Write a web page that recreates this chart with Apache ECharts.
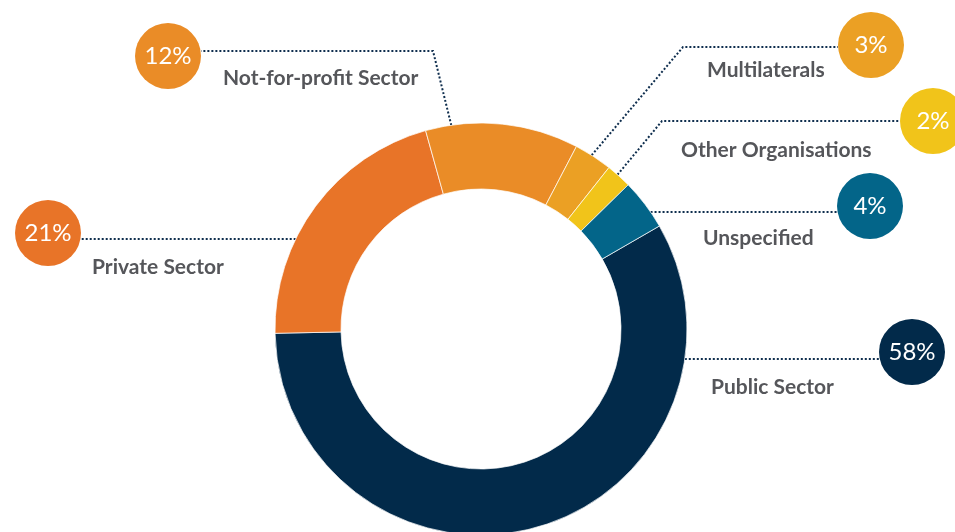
<!DOCTYPE html>
<html><head><meta charset="utf-8">
<script src="https://cdn.jsdelivr.net/npm/echarts@6.0.0/dist/echarts.min.js"></script>
<style>html,body{margin:0;padding:0;background:#fff}#chart{width:955px;height:532px}</style>
</head><body><div id="chart"></div>
<script>
// ---- data ----
const categories = ['Public Sector', 'Private Sector', 'Not-for-profit Sector', 'Multilaterals', 'Other Organisations', 'Unspecified'];
const shares = [58, 21, 12, 3, 2, 4];
const colors = ['#022a4a', '#e87428', '#ea8c27', '#eba024', '#f1c41a', '#036589'];

// ---- annotation layout ----
const CX = 481, CY = 329, R_OUT = 206, R_IN = 140, BADGE_R = 33;
const badgePos = [[912, 352], [48, 233], [168, 56], [871, 45], [933, 121], [870, 206]];
const namePos = [[711, 387], [92, 267], [223, 78], [707, 70], [681, 150], [703, 238]];
const lineY = [359, 239, 51, 47, 121, 212];
const elbows = [null, null, [433, 51], [683, 47], [662, 121], null];
const anchorAngle = [null, null, 98.3, 57.5, 48.5, null];

function linePoints(i) {
  const b = badgePos[i];
  const right = b[0] > CX;
  const endX = right ? b[0] - BADGE_R : b[0] + BADGE_R;
  const y = lineY[i];
  if (!elbows[i]) {
    const dy = y - CY;
    const dx = Math.sqrt(R_OUT * R_OUT - dy * dy);
    const sx = right ? CX + dx : CX - dx;
    return [[sx, y], [(sx + endX) / 2, y], [endX, y]];
  }
  const a = anchorAngle[i] * Math.PI / 180;
  const s = [CX + R_OUT * Math.cos(a), CY - R_OUT * Math.sin(a)];
  return [s, elbows[i], [endX, y]];
}

const chart = echarts.init(document.getElementById('chart'));
chart.setOption({
  animation: false,
  series: [
    {
      type: 'pie',
      center: [CX, CY],
      radius: [R_IN, R_OUT],
      startAngle: 30,
      clockwise: true,
      avoidLabelOverlap: false,
      silent: true,
      z: 2,
      itemStyle: { borderColor: '#ffffff', borderWidth: 0.7 },
      label: {
        show: true, position: 'outside', formatter: '{c}%',
        color: '#ffffff', fontFamily: 'Lato', fontSize: 24, fontWeight: 'normal',
        width: 66, height: 66, lineHeight: 66, align: 'center', verticalAlign: 'middle',
        borderRadius: 33
      },
      labelLine: { show: true, smooth: false, lineStyle: { color: '#0f2e4e', width: 2, type: 'dotted' } },
      labelLayout: function (p) {
        const i = p.dataIndex;
        return { x: badgePos[i][0], y: badgePos[i][1], align: 'center', verticalAlign: 'middle', labelLinePoints: linePoints(i) };
      },
      data: categories.map((n, i) => ({
        name: n, value: shares[i],
        itemStyle: { color: colors[i] },
        label: { backgroundColor: colors[i] }
      }))
    },
    {
      type: 'pie',
      center: [CX, CY],
      radius: [R_IN, R_OUT],
      startAngle: 30,
      clockwise: true,
      avoidLabelOverlap: false,
      silent: true,
      z: 1,
      itemStyle: { color: 'rgba(0,0,0,0)', borderWidth: 0 },
      label: {
        show: true, position: 'outside', formatter: '{b}',
        color: '#55565a', fontFamily: 'Lato', fontSize: 21, fontWeight: 'bold'
      },
      labelLine: { show: false },
      labelLayout: function (p) {
        const i = p.dataIndex;
        return { x: namePos[i][0], y: namePos[i][1], align: 'left', verticalAlign: 'middle' };
      },
      data: categories.map((n, i) => ({ name: n, value: shares[i] }))
    }
  ]
});
</script>
</body></html>
